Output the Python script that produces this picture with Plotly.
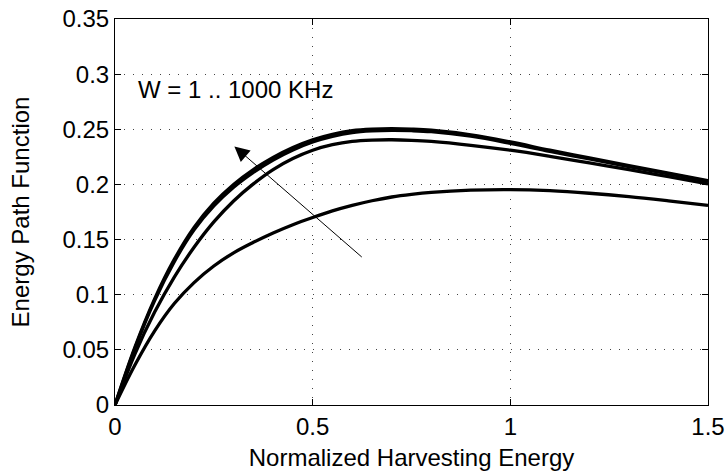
import plotly.graph_objects as go

# Normalized harvesting energy sample points
harvest = [0, 0.05, 0.1, 0.15, 0.2, 0.25, 0.3, 0.35, 0.4, 0.45, 0.5, 0.55, 0.6,
           0.65, 0.7, 0.75, 0.8, 0.9, 1.0, 1.1, 1.2, 1.3, 1.4, 1.5]

# Energy path function for each bandwidth W
epf_1000k = [0, 0.052, 0.096, 0.132, 0.161, 0.183, 0.200, 0.2135, 0.2245, 0.2335,
             0.2405, 0.2455, 0.2488, 0.2502, 0.2506, 0.2502, 0.2492, 0.2450,
             0.2385, 0.2310, 0.2240, 0.2170, 0.2102, 0.2035]
epf_100k = [0, 0.051, 0.0945, 0.1300, 0.1588, 0.1805, 0.1975, 0.2110, 0.2222,
            0.2313, 0.2385, 0.2436, 0.2470, 0.2485, 0.2490, 0.2487, 0.2478,
            0.2437, 0.2373, 0.2300, 0.2231, 0.2162, 0.2095, 0.2028]
epf_10k = [0, 0.046, 0.084, 0.116, 0.143, 0.166, 0.185, 0.2005, 0.2135, 0.2235,
           0.2310, 0.2360, 0.2390, 0.2402, 0.2405, 0.2400, 0.2390, 0.2355,
           0.2310, 0.2255, 0.2195, 0.2135, 0.2070, 0.2005]
epf_1k = [0, 0.036, 0.067, 0.092, 0.111, 0.126, 0.138, 0.1475, 0.156, 0.1635,
          0.1700, 0.1760, 0.1810, 0.1852, 0.1886, 0.1910, 0.1928, 0.1948,
          0.1953, 0.1943, 0.1920, 0.1889, 0.1851, 0.1810]

series = [("1000 KHz", epf_1000k), ("100 KHz", epf_100k),
          ("10 KHz", epf_10k), ("1 KHz", epf_1k)]

x_ticks = [0, 0.5, 1, 1.5]
x_labels = ["0", "0.5", "1", "1.5"]
y_ticks = [0, 0.05, 0.1, 0.15, 0.2, 0.25, 0.3, 0.35]
y_labels = ["0", "0.05", "0.1", "0.15", "0.2", "0.25", "0.3", "0.35"]

# Arrow showing the direction of increasing W
arrow_tail = (0.628, 0.133)
arrow_head = (0.302, 0.2345)

FONT = "Liberation Sans, Arial, Helvetica, sans-serif"
FS = 24

fig = go.Figure()
for name, vals in series:
    fig.add_trace(go.Scatter(
        x=harvest, y=vals, name=name, mode="lines",
        line=dict(color="black", width=3.3, shape="spline", smoothing=1.0),
        showlegend=False,
    ))

axis_common = dict(
    showline=True, linecolor="black", linewidth=1, mirror="allticks",
    ticks="inside", ticklen=6, tickcolor="black", tickwidth=1,
    showgrid=True, gridcolor="#444444", gridwidth=1, griddash="1px,8px",
    zeroline=False, tickfont=dict(family=FONT, size=FS, color="black"),
    automargin=False,
)

fig.update_xaxes(range=[0, 1.5], tickvals=x_ticks, ticktext=x_labels,
                 title=dict(text="Normalized Harvesting Energy",
                            font=dict(family=FONT, size=FS, color="black"),
                            standoff=10),
                 **axis_common)
fig.update_yaxes(range=[0, 0.35], tickvals=y_ticks, ticktext=y_labels,
                 title=dict(text="Energy Path Function",
                            font=dict(family=FONT, size=FS, color="black"),
                            standoff=26),
                 **axis_common)

fig.add_annotation(
    x=arrow_head[0], y=arrow_head[1], ax=arrow_tail[0], ay=arrow_tail[1],
    xref="x", yref="y", axref="x", ayref="y", text="",
    showarrow=True, arrowhead=2, arrowsize=3, arrowwidth=1, arrowcolor="black",
)
fig.add_annotation(
    x=0.054, y=0.2857, xref="x", yref="y", text="W = 1 .. 1000 KHz",
    showarrow=False, xanchor="left", yanchor="middle",
    font=dict(family=FONT, size=FS, color="black"),
)

fig.update_layout(
    width=726, height=473,
    margin=dict(l=115, r=18, t=19, b=68),
    paper_bgcolor="white", plot_bgcolor="white",
    font=dict(family=FONT, color="black"),
)

fig.write_html("out.html")
